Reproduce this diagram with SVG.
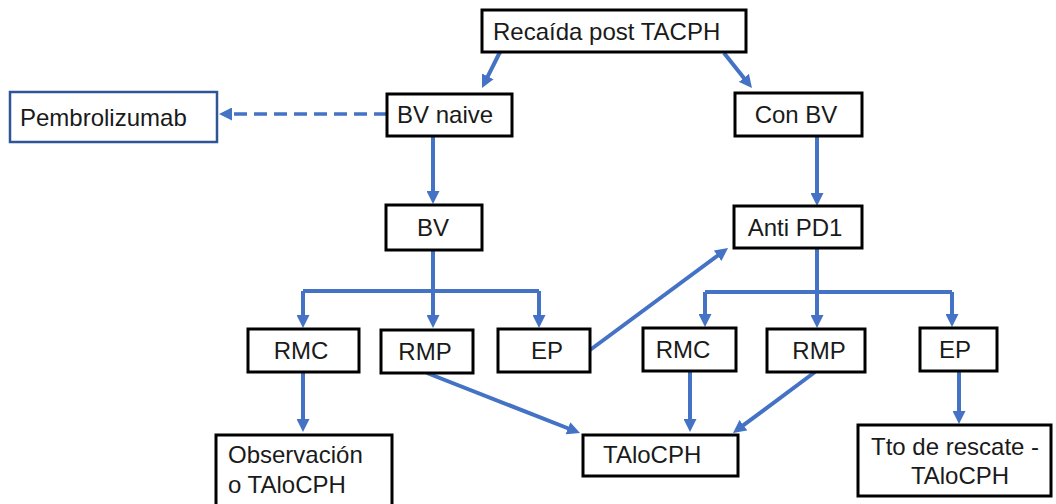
<svg xmlns="http://www.w3.org/2000/svg" width="1056" height="504" viewBox="0 0 1056 504">
<defs>
<style>
.box{fill:#fff;stroke:#000;stroke-width:3}
.pbox{fill:#fff;stroke:#2F5597;stroke-width:2.5}
.t{font-family:"Liberation Sans",Arial,sans-serif;font-size:24px;fill:#1a1a1a}
.c{text-anchor:middle}
.ln{fill:none;stroke:#4472C4;stroke-width:4}
.ar{marker-end:url(#ah)}
.dash{stroke-dasharray:13 7;stroke-width:3.5}
</style>
<marker id="ah" viewBox="0 0 13 13" refX="2" refY="6.5" markerWidth="13" markerHeight="13" markerUnits="userSpaceOnUse" orient="auto">
<path d="M0,0 L13,6.5 L0,13 z" fill="#4472C4"/>
</marker>
</defs>
<rect width="1056" height="504" fill="#fff"/>
<g id="connectors">
<line class="ln ar" x1="500" y1="52" x2="486.9" y2="78.2"/>
<line class="ln ar" x1="724" y1="53" x2="745.1" y2="79.4"/>
<line class="ln ar dash" x1="387" y1="114" x2="230" y2="114"/>
<line class="ln ar" x1="433" y1="136" x2="433" y2="193"/>
<line class="ln ar" x1="817" y1="136" x2="817" y2="195"/>
<line class="ln" x1="303" y1="291" x2="539" y2="291"/>
<line class="ln ar" x1="303" y1="291" x2="303" y2="317"/>
<line class="ln ar" x1="433" y1="251" x2="433" y2="317"/>
<line class="ln ar" x1="539" y1="291" x2="539" y2="317"/>
<line class="ln" x1="705" y1="292" x2="952" y2="292"/>
<line class="ln ar" x1="705" y1="292" x2="705" y2="316"/>
<line class="ln ar" x1="817" y1="248" x2="817" y2="317"/>
<line class="ln ar" x1="952" y1="292" x2="952" y2="316"/>
<line class="ln ar" x1="303" y1="372" x2="303" y2="421"/>
<line class="ln ar" x1="427" y1="373" x2="569.8" y2="429"/>
<line class="ln ar" x1="590" y1="350" x2="719.2" y2="254.5"/>
<line class="ln ar" x1="690" y1="371" x2="690" y2="421"/>
<line class="ln ar" x1="815" y1="372" x2="741.8" y2="426.4"/>
<line class="ln ar" x1="959" y1="371" x2="959" y2="413"/>
</g>
<g id="recaida"><rect class="box" x="482" y="10" width="264" height="42"/><text class="t" x="493" y="40">Recaída post TACPH</text></g>
<g id="pembrolizumab"><rect class="pbox" x="10" y="92" width="207" height="50"/><text class="t" x="20" y="126">Pembrolizumab</text></g>
<g id="bv-naive"><rect class="box" x="387" y="94" width="125" height="42"/><text class="t" x="397" y="123">BV naive</text></g>
<g id="con-bv"><rect class="box" x="735" y="93" width="127" height="43"/><text class="t c" x="796" y="123">Con BV</text></g>
<g id="bv"><rect class="box" x="386" y="205" width="96" height="45"/><text class="t c" x="433" y="236">BV</text></g>
<g id="anti-pd1"><rect class="box" x="734" y="206" width="128" height="42"/><text class="t c" x="795" y="236">Anti PD1</text></g>
<g id="rmc-left"><rect class="box" x="248" y="329" width="111" height="43"/><text class="t c" x="301" y="359">RMC</text></g>
<g id="rmp-left"><rect class="box" x="381" y="330" width="92" height="43"/><text class="t c" x="425" y="360">RMP</text></g>
<g id="ep-left"><rect class="box" x="498" y="329" width="92" height="43"/><text class="t c" x="547" y="359">EP</text></g>
<g id="rmc-right"><rect class="box" x="643" y="328" width="93" height="43"/><text class="t c" x="683" y="358">RMC</text></g>
<g id="rmp-right"><rect class="box" x="767" y="329" width="98" height="43"/><text class="t c" x="819" y="359">RMP</text></g>
<g id="ep-right"><rect class="box" x="920" y="328" width="77" height="43"/><text class="t c" x="955" y="358">EP</text></g>
<g id="observacion"><rect class="box" x="216" y="435" width="176" height="80"/><text class="t" x="228" y="463">Observación</text><text class="t" x="228" y="493">o TAloCPH</text></g>
<g id="taloCPH"><rect class="box" x="583" y="435" width="155" height="41"/><text class="t" x="603" y="463">TAloCPH</text></g>
<g id="tto-rescate"><rect class="box" x="858" y="425" width="193" height="71"/><text class="t" x="871" y="455">Tto de rescate -</text><text class="t c" x="960" y="484">TAloCPH</text></g>
</svg>
